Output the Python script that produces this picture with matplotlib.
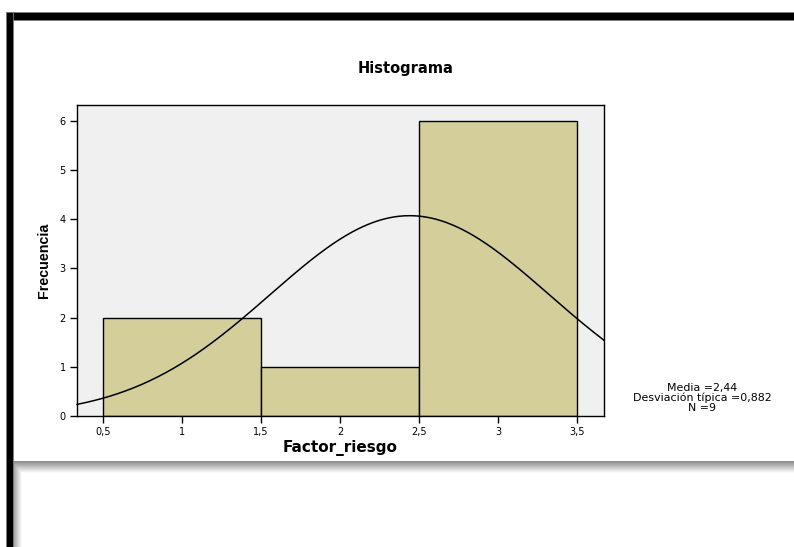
import numpy as np
import matplotlib
matplotlib.use("Agg")
import matplotlib.pyplot as plt

plt.rcParams['font.family'] = ['DejaVu Sans']

# Histogram of Factor_riesgo
bin_edges = [0.5, 1.5, 2.5, 3.5]
counts = [2, 1, 6]
media = 2.44
desviacion = 0.882
n_casos = 9
xticks = [0.5, 1, 1.5, 2, 2.5, 3, 3.5]
xtick_labels = ["0,5", "1", "1,5", "2", "2,5", "3", "3,5"]
yticks = [0, 1, 2, 3, 4, 5, 6]

W, H = 794, 547
fig = plt.figure(figsize=(W / 100, H / 100), dpi=100)
fig.patch.set_facecolor("white")

# page frame drawn in pixel coordinates
frame = fig.add_axes([0, 0, 1, 1], zorder=0)
frame.axis("off")

# soft shadow on the top and left edges of the lower panel
y0, x0 = 461, 13
yy = np.arange(y0, H) + 0.5
xx = np.arange(x0, W) + 0.5
top_dark = np.clip(1 - (yy - y0) / 12.0, 0, 1) * 0.47
left_dark = np.clip(1 - (xx - x0) / 9.0, 0, 1) * 0.40
dark = np.maximum(top_dark[:, None], left_dark[None, :])
frame.imshow(1 - dark, cmap="gray", vmin=0, vmax=1, extent=(x0, W, H, y0),
             interpolation="nearest", aspect="auto")

# thick black border: top and left
frame.add_patch(plt.Rectangle((6, 12), W - 6, 8, facecolor="black",
                              edgecolor="#808080", lw=0.6))
frame.add_patch(plt.Rectangle((6, 12), 7, H - 12, facecolor="black",
                              edgecolor="#808080", lw=0.6))
frame.set_xlim(0, W)
frame.set_ylim(H, 0)

# histogram axes
left, right, top, bottom = 77, 604, 105, 416
ax = fig.add_axes([left / W, 1 - bottom / H, (right - left) / W, (bottom - top) / H],
                  zorder=2)
ax.set_facecolor("#f0f0f0")

centers = [(a + b) / 2 for a, b in zip(bin_edges[:-1], bin_edges[1:])]
widths = [b - a for a, b in zip(bin_edges[:-1], bin_edges[1:])]
ax.bar(centers, counts, width=widths, color="#d3ce9a", edgecolor="black",
       linewidth=1.0, zorder=2)

# normal curve scaled to the histogram
xlim = (0.335, 3.67)
xs = np.linspace(xlim[0], xlim[1], 400)
bw = widths[0]
ys = n_casos * bw / (desviacion * np.sqrt(2 * np.pi)) * np.exp(-0.5 * ((xs - media) / desviacion) ** 2)
ax.plot(xs, ys, color="black", lw=1.1, zorder=3, clip_on=False)

ax.set_xlim(*xlim)
ax.set_ylim(0, 6.32)
ax.set_xticks(xticks)
ax.set_xticklabels(xtick_labels)
ax.set_yticks(yticks)
ax.tick_params(axis="both", direction="out", length=5, width=1.0,
               labelsize=7, color="black", pad=3)
for s in ax.spines.values():
    s.set_linewidth(1.0)
    s.set_color("black")

ax.set_xlabel("Factor_riesgo", fontsize=11, fontweight="bold", labelpad=2)
ax.set_ylabel("Frecuencia", fontsize=10.3, fontweight="bold", labelpad=6,
              family=["Liberation Sans Narrow", "Liberation Sans", "DejaVu Sans"])

fig.text(406 / W, 1 - 68 / H, "Histograma", ha="center", va="center",
         fontsize=10.5, fontweight="bold")

fig.text(702 / W, 1 - 398 / H,
         "Media =%s\nDesviación típica =%s\nN =%d" % (
             str(media).replace(".", ","), str(desviacion).replace(".", ","), n_casos),
         ha="center", va="center", fontsize=7.9, linespacing=0.95)

fig.savefig("out.png", dpi=100, facecolor="white")
